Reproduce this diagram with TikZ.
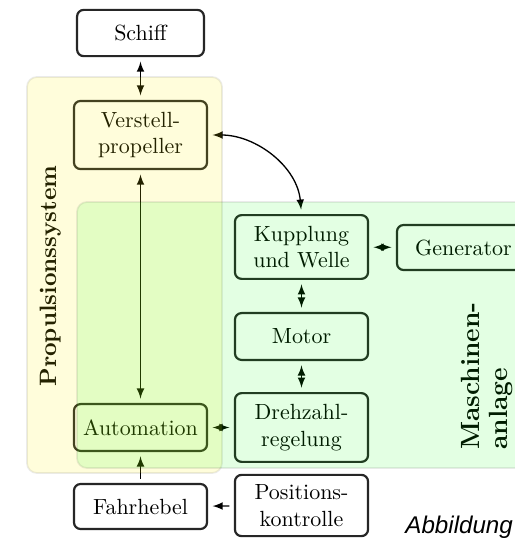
\documentclass[tikz,border=0pt]{standalone}
\usepackage{fontspec}
\newfontfamily\capfont{Liberation Sans}
\tikzset{
  box/.style={draw=black!85, line width=1pt, rounded corners=3pt, align=center,
    minimum width=2.13cm, inner sep=1pt, fill=white},
  region/.style={rounded corners=4.5pt, draw=black, draw opacity=0.08, line width=0.8pt},
  link/.style={<->, semithick, shorten >=2pt, shorten <=2pt}
}
\begin{document}
\begin{tikzpicture}[x=0.016cm, y=-0.016cm, >=latex]
    % 1. Rahmen des Bildes
    \useasboundingbox (0,0) rectangle (515,538);
    \clip (0,0) rectangle (515,538);

    % 2. Bloecke
    \node[box, minimum width=2.03cm, minimum height=0.74cm] (schiff) at (140.5,33) {Schiff};
    \node[box, minimum height=1.09cm] (verstell) at (140.5,135) {Verstell-\\propeller};
    \node[box, minimum height=0.75cm] (automation) at (140.5,427.5) {Automation};
    \node[box, minimum height=0.72cm] (fahrhebel) at (140.5,506.5) {Fahrhebel};
    \node[box, minimum height=1.02cm] (kupplung) at (301.5,247) {Kupplung\\und Welle};
    \node[box, minimum height=0.72cm] (generator) at (463.5,247.5) {Generator};
    \node[box, minimum height=0.75cm] (motor) at (301.5,336.5) {Motor};
    \node[box, minimum height=1.1cm] (drehzahl) at (301.5,427.5) {Drehzahl-\\regelung};
    \node[box, minimum height=0.98cm] (positionen) at (301.5,505.5) {Positions-\\kontrolle};

    % 3. Verbindungen
    \draw[link] (schiff) -- (verstell);
    \draw[link] (verstell) -- (automation);
    \draw[link] (verstell.east) to[out=0, in=95] (kupplung.north);
    \draw[link] (kupplung) -- (generator);
    \draw[link] (kupplung) -- (motor);
    \draw[link] (motor) -- (drehzahl);
    \draw[link] (automation) -- (drehzahl);
    \draw[link, <-] (automation) -- (fahrhebel);
    \draw[link, <-] (fahrhebel) -- (positionen);

    % 4. Beschriftung der Bereiche
    \node[rotate=90, font=\bfseries\fontsize{10.8}{12}\selectfont] (propulsion) at (51,276) {Propulsionssystem};
    \node[rotate=90, align=left, font=\bfseries\fontsize{12}{12.5}\selectfont] (maschine) at (487,376) {Maschinen-\\anlage};

    % 5. Halbtransparente Bereiche
    \fill[region, fill=yellow, fill opacity=0.14] (27,77) rectangle (222,473);
    \fill[region, fill=green, fill opacity=0.11] (77,202) rectangle (540,468);

    % 6. Bildunterschrift (abgeschnitten)
    \node[anchor=base west, inner sep=0pt, font=\capfont\itshape\fontsize{11}{13}\selectfont] (caption) at (405,533) {Abbildung};
\end{tikzpicture}
\end{document}
